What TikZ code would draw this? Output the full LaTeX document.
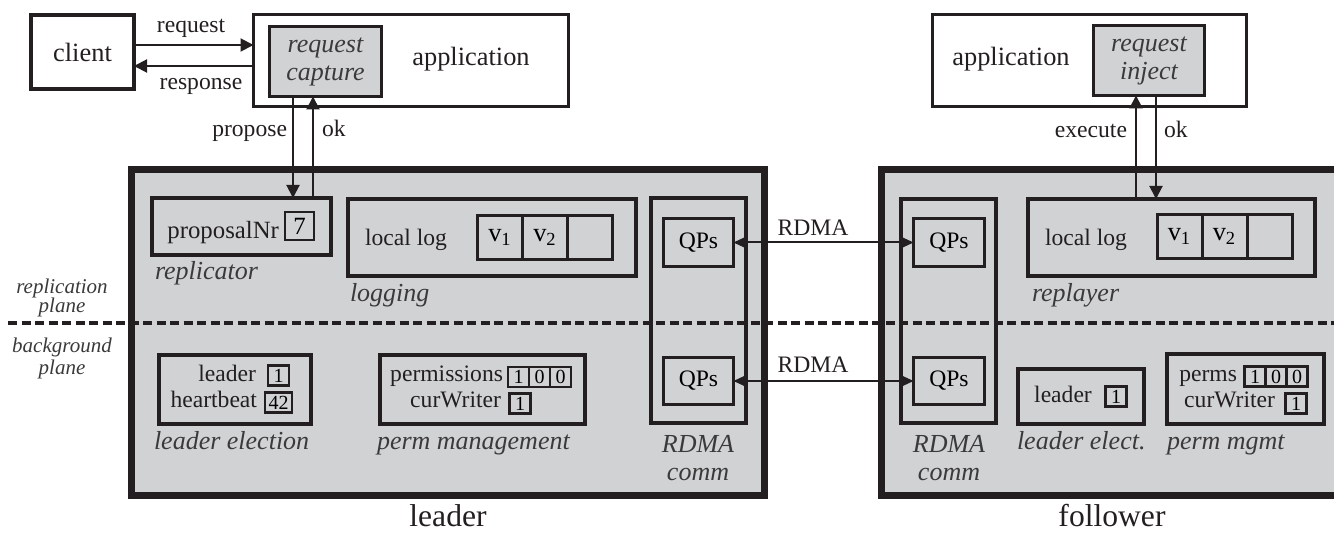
\documentclass[tikz,border=0pt]{standalone}
\usepackage{fontspec}
\setmainfont{Liberation Serif}
\usetikzlibrary{arrows.meta,calc}
\definecolor{ink}{HTML}{231F20}
\definecolor{panel}{HTML}{D1D2D4}
\definecolor{labgray}{HTML}{3A3A3A}
\newcommand\FntMain{\fontsize{13.2pt}{15pt}\selectfont}
\newcommand\FntProp{\fontsize{12.4pt}{15pt}\selectfont}
\newcommand\FntLab{\fontsize{11.8pt}{14pt}\selectfont}
\newcommand\FntIt{\fontsize{13pt}{14pt}\selectfont\itshape}
\newcommand\FntPlane{\fontsize{10.5pt}{11pt}\selectfont\itshape}
\newcommand\FntBig{\fontsize{15.8pt}{18pt}\selectfont}
\newcommand\FntDig{\fontsize{10pt}{11pt}\selectfont}
\tikzset{
  every node/.style={inner sep=0pt, outer sep=0pt},
  base/.style={draw=ink, inner sep=0pt, outer sep=0pt},
  bigbox/.style={base, line width=3.5pt, fill=panel},
  comp/.style={base, line width=2pt},
  appbox/.style={base, line width=1.5pt},
  hook/.style={base, line width=1.5pt, fill=panel, align=center, font=\FntIt, text=labgray},
  qpbox/.style={base, line width=1.5pt, font=\FntLab, minimum width=35pt, minimum height=24pt},
  cell/.style={base, line width=1.5pt, minimum width=22.5pt, minimum height=22pt, font=\FntMain},
  valbox/.style={base, line width=1.1pt, minimum width=10.5pt, minimum height=10pt, font=\FntDig},
  txt/.style={text=ink, font=\FntLab},
  lab/.style={text=labgray, font=\FntIt},
  planelab/.style={text=labgray, font=\FntPlane, anchor=base},
  arr/.style={draw=ink, line width=1pt, -{Triangle[length=6.5pt,width=6.5pt]}},
  rdma/.style={draw=ink, line width=1pt, {Stealth[length=6.5pt,width=6pt,inset=1.5pt]}-{Stealth[length=6.5pt,width=6pt,inset=1.5pt]}},
  dashline/.style={draw=ink, line width=2pt, dash pattern=on 4.5pt off 2.25pt}
}
\begin{document}
\begin{tikzpicture}[x=0.5pt, y=-0.5pt]
\useasboundingbox (0,0) rectangle (1334,533);
\clip (0,0) rectangle (1334,533);

% big machine boxes
\node[bigbox, minimum width=316.5pt, minimum height=163pt] (leaderbox) at (448,332.5) {};
\node[bigbox, minimum width=230.5pt, minimum height=163pt] (followerbox) at (1112,332.5) {};

% top row (leader side)
\node[base, line width=2pt, minimum width=51.5pt, minimum height=37pt, font=\FntMain, text=ink] (client) at (82.5,52) {client};
\node[appbox, minimum width=157.5pt, minimum height=46pt] (appL) at (411,60.5) {};
\node[txt, font=\FntMain, anchor=base] (appLtext) at (471,66) {application};
\node[hook, minimum width=56pt, minimum height=35pt] (capture) at (325.5,61.5) {request\\capture};

% top row (follower side)
\node[appbox, minimum width=157pt, minimum height=46pt] (appF) at (1089.5,60.5) {};
\node[txt, font=\FntMain, anchor=base] (appFtext) at (1011,66) {application};
\node[hook, minimum width=55.5pt, minimum height=35pt] (inject) at (1149,60.5) {request\\inject};

% leader: replicator
\node[comp, minimum width=89.5pt, minimum height=28.5pt] (replicator) at (241.5,226.5) {};
\node[txt, font=\FntProp, anchor=base east] (propnr) at (279,239) {proposalNr};
\node[valbox, minimum width=14.5pt, minimum height=14pt, font=\FntProp] (pnval) at (299.5,226) {7};
\node[lab, anchor=base west] (replicatorlab) at (155,280) {replicator};

% leader: logging
\node[comp, minimum width=144pt, minimum height=38.5pt] (logging) at (492,237.5) {};
\node[txt, anchor=base] (llogL) at (406,246) {local log};
\node[cell] (lv1) at (500,237.5) {v\textsubscript{1}};
\node[cell] (lv2) at (545,237.5) {v\textsubscript{2}};
\node[cell] (lv3) at (590,237.5) {};
\node[lab, anchor=base west] (logginglab) at (350,302) {logging};

% leader: RDMA comm
\node[comp, minimum width=47.5pt, minimum height=112.5pt] (rcL) at (698.5,310.5) {};
\node[qpbox] (qpLt) at (698.5,242.5) {QPs};
\node[qpbox, minimum height=23.5pt] (qpLb) at (698.5,381) {QPs};
\node[lab, anchor=base] (rcLlab1) at (698,453) {RDMA};
\node[lab, anchor=base] (rcLlab2) at (698,481) {comm};

% leader: leader election
\node[comp, minimum width=76pt, minimum height=34.5pt] (leL) at (235,389.5) {};
\node[txt, anchor=base east] (leLt1) at (256,382) {leader};
\node[txt, anchor=base east] (leLt2) at (257,408) {heartbeat};
\node[valbox] (leLv) at (278.5,375.5) {1};
\node[valbox, minimum width=13.5pt] (hbv) at (278.5,402.5) {42};
\node[lab, anchor=base west] (leLlab) at (154,450) {leader election};

% leader: perm management
\node[comp, minimum width=102.5pt, minimum height=34.5pt] (pmL) at (482.5,389.5) {};
\node[txt, anchor=base east] (pmLt1) at (503,382) {permissions};
\node[valbox] (pmLc1) at (518.5,377) {1};
\node[valbox] (pmLc2) at (539.5,377) {0};
\node[valbox] (pmLc3) at (560.5,377) {0};
\node[txt, anchor=base east] (pmLt2) at (501,408) {curWriter};
\node[valbox] (pmLw) at (520,403.5) {1};
\node[lab, anchor=base west] (pmLlab) at (377,450) {perm management};

% follower: RDMA comm
\node[comp, minimum width=47.5pt, minimum height=112pt] (rcF) at (948.5,311) {};
\node[qpbox, minimum width=35.5pt] (qpFt) at (949,242.5) {QPs};
\node[qpbox, minimum width=35.5pt, minimum height=23.5pt] (qpFb) at (949,381) {QPs};
\node[lab, anchor=base] (rcFlab1) at (949,453) {RDMA};
\node[lab, anchor=base] (rcFlab2) at (949,481) {comm};

% follower: replayer
\node[comp, minimum width=143.5pt, minimum height=38.5pt] (replayer) at (1171.5,237.5) {};
\node[txt, anchor=base] (llogF) at (1086,246) {local log};
\node[cell] (fv1) at (1179.5,236.5) {v\textsubscript{1}};
\node[cell] (fv2) at (1224.5,236.5) {v\textsubscript{2}};
\node[cell] (fv3) at (1269.5,236.5) {};
\node[lab, anchor=base west] (replayerlab) at (1032,302) {replayer};

% follower: leader elect.
\node[comp, minimum width=63pt, minimum height=27.5pt] (leF) at (1081,396.5) {};
\node[txt, anchor=base] (leFt) at (1063,403) {leader};
\node[valbox] (leFv) at (1116,396.5) {1};
\node[lab, anchor=base west] (leFlab) at (1017,450) {leader elect.};

% follower: perm mgmt
\node[comp, minimum width=78.5pt, minimum height=35pt] (pmF) at (1245.5,389) {};
\node[txt, anchor=base east] (pmFt1) at (1237,382) {perms};
\node[valbox] (pmFc1) at (1255,376.5) {1};
\node[valbox] (pmFc2) at (1276,376.5) {0};
\node[valbox] (pmFc3) at (1297,376.5) {0};
\node[txt, anchor=base east] (pmFt2) at (1275,408) {curWriter};
\node[valbox] (pmFw) at (1296,403.5) {1};
\node[lab, anchor=base west] (pmFlab) at (1167,450) {perm mgmt};

% plane labels
\node[planelab] (rp1) at (62,294) {replication};
\node[planelab] (rp2) at (62,313) {plane};
\node[planelab] (bp1) at (62,353) {background};
\node[planelab] (bp2) at (62,375) {plane};

% machine names
\node[txt, font=\FntBig, anchor=base] (leadername) at (448,527) {leader};
\node[txt, font=\FntBig, anchor=base] (followername) at (1112,527) {follower};

% client <-> application
\coordinate (reqS) at ([yshift=3.5pt]client.east);
\coordinate (resS) at ([yshift=-7pt]client.east);
\draw[arr] (reqS) -- (reqS -| appL.west);
\draw[arr] (resS -| appL.west) -- (resS);
\node[txt, anchor=base] (reqlab) at (191,33) {request};
\node[txt, anchor=base] (reslab) at (201,90) {response};

% application <-> replicator (leader)
\coordinate (pA) at ([xshift=-16.25pt]capture.south);
\coordinate (oA) at ([xshift=-6.25pt]capture.south);
\draw[arr] (pA) -- (pA |- replicator.north);
\draw[arr] (oA |- replicator.north) -- (oA);
\node[txt, anchor=base east] (proplab) at (287,137) {propose};
\node[txt, anchor=base west] (oklabL) at (322,137) {ok};

% application <-> replayer (follower)
\coordinate (eA) at ([xshift=-6.5pt]inject.south);
\coordinate (kA) at ([xshift=3.5pt]inject.south);
\draw[arr] (eA |- replayer.north) -- (eA);
\draw[arr] (kA) -- (kA |- replayer.north);
\node[txt, anchor=base east] (execlab) at (1127,138) {execute};
\node[txt, anchor=base west] (oklabF) at (1164,138) {ok};

% RDMA links
\draw[rdma] (qpLt.east) -- (qpFt.west);
\draw[rdma] (qpLb.east) -- (qpFb.west);
\node[txt, anchor=base] (rdmatop) at (813,236) {RDMA};
\node[txt, anchor=base] (rdmabot) at (813,373) {RDMA};

% plane separator
\coordinate (sepL) at (8,323);
\coordinate (sepR) at (1334,323);
\draw[dashline] (sepL) -- (sepR);
\end{tikzpicture}
\end{document}
